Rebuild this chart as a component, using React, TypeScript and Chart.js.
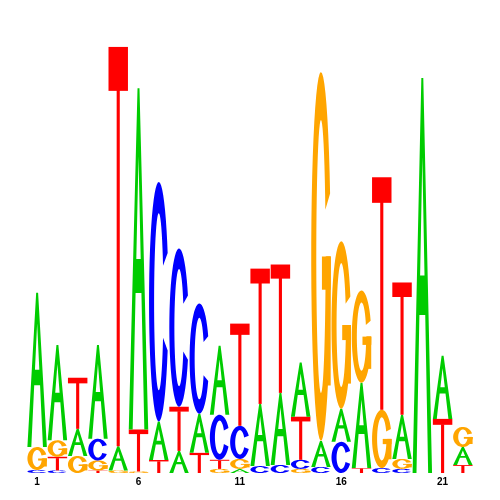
import React, { useEffect, useRef } from "react";
import { Chart, registerables } from "chart.js";

Chart.register(...registerables);

// Sequence positions
const positions = [
  "1", "2", "3", "4", "5", "6", "7", "8", "9", "10", "11",
  "12", "13", "14", "15", "16", "17", "18", "19", "20", "21", "22",
];

// Information (bits) carried by each base at each position
const bitsA = [0.713, 0.44, 0.125, 0.433, 0.111, 1.576, 0.178, 0.102, 0.181, 0.319, 0.019, 0.287, 0.333, 0.25, 0.12, 0.153, 0.394, 0.0, 0.204, 1.824, 0.292, 0.083];
const bitsC = [0.014, 0.012, 0.0, 0.1, 0.0, 0.0, 1.106, 0.731, 0.509, 0.208, 0.153, 0.032, 0.037, 0.042, 0.028, 0.144, 0.0, 0.023, 0.019, 0.0, 0.0, 0.0];
const bitsG = [0.106, 0.076, 0.079, 0.046, 0.012, 0.007, 0.0, 0.0, 0.0, 0.019, 0.046, 0.0, 0.0, 0.019, 1.704, 0.773, 0.426, 0.269, 0.046, 0.0, 0.0, 0.093];
const bitsT = [0.0, 0.063, 0.236, 0.012, 1.845, 0.194, 0.06, 0.204, 0.093, 0.042, 0.472, 0.625, 0.593, 0.199, 0.0, 0.0, 0.023, 1.074, 0.611, 0.0, 0.25, 0.037];

// Which tick labels are shown (every 5th position, starting at 1)
const tickStep = 5;
const maxBits = 2;

const bases = ["A", "C", "G", "T"];
const baseColors: Record<string, string> = {
  A: "#00CC00",
  C: "#0000FF",
  G: "#FFA500",
  T: "#FF0000",
};

type Pt = [number, number];

function drawLetter(
  ctx: CanvasRenderingContext2D,
  letter: string,
  x0: number,
  yb: number,
  w: number,
  h: number,
  color: string
) {
  const P = (u: number, v: number): Pt => [x0 + u * w, yb - v * h];
  const poly = (pts: Pt[]) => {
    pts.forEach((p, i) => {
      const q = P(p[0], p[1]);
      if (i === 0) ctx.moveTo(q[0], q[1]);
      else ctx.lineTo(q[0], q[1]);
    });
    ctx.closePath();
  };
  const ringPts = (a0: number, a1: number, rx: number, ry: number, n = 48): Pt[] => {
    const out: Pt[] = [];
    for (let k = 0; k <= n; k++) {
      const a = ((a0 + ((a1 - a0) * k) / n) * Math.PI) / 180;
      out.push([0.5 + rx * Math.cos(a), 0.5 + ry * Math.sin(a)]);
    }
    return out;
  };
  ctx.save();
  ctx.fillStyle = color;
  ctx.beginPath();
  if (letter === "A") {
    poly([
      [0, 0], [0.45, 1], [0.55, 1], [1, 0], [0.8, 0],
      [0.65, 0.4], [0.35, 0.4], [0.2, 0],
    ]);
    poly([[0.3875, 0.5], [0.5, 0.8], [0.6125, 0.5]]);
    ctx.fill("evenodd");
  } else if (letter === "T") {
    poly([[0, 0.89], [1, 0.89], [1, 1], [0, 1]]);
    ctx.fill();
    ctx.beginPath();
    poly([[0.42, 0], [0.58, 0], [0.58, 0.9], [0.42, 0.9]]);
    ctx.fill();
  } else if (letter === "C") {
    const outer = ringPts(24, 336, 0.5, 0.5);
    const inner = ringPts(336, 24, 0.24, 0.37);
    poly([...outer, ...inner]);
    ctx.fill();
  } else if (letter === "G") {
    const outer = ringPts(20, 360, 0.5, 0.5);
    const inner = ringPts(360, 20, 0.24, 0.37);
    poly([...outer, ...inner]);
    ctx.fill();
    ctx.beginPath();
    poly([[0.55, 0.41], [1, 0.41], [1, 0.5], [0.55, 0.5]]);
    ctx.fill();
    ctx.beginPath();
    poly([[0.78, 0.15], [1, 0.15], [1, 0.5], [0.78, 0.5]]);
    ctx.fill();
  }
  ctx.restore();
}

const logoPlugin = {
  id: "logoLetters",
  afterDatasetsDraw(chart: any) {
    const ctx: CanvasRenderingContext2D = chart.ctx;
    chart.data.datasets.forEach((ds: any, d: number) => {
      const meta = chart.getDatasetMeta(d);
      meta.data.forEach((bar: any, i: number) => {
        const v = ds.data[i];
        if (!v || v <= 0) return;
        const p = bar.getProps(["x", "y", "base", "width"], true);
        const top = Math.min(p.y, p.base);
        const bottom = Math.max(p.y, p.base);
        const h = bottom - top;
        if (h < 0.3) return;
        const L = ds.letters[i];
        drawLetter(ctx, L, p.x - p.width / 2, bottom, p.width, h, baseColors[L]);
      });
    });
  },
};

export default function App() {
  const canvasRef = useRef<HTMLCanvasElement | null>(null);

  useEffect(() => {
    if (!canvasRef.current) return;
    const series: Record<string, number[]> = { A: bitsA, C: bitsC, G: bitsG, T: bitsT };
    const ranked = [0, 1, 2, 3].map(() => ({ values: [] as number[], letters: [] as string[] }));
    positions.forEach((_, i) => {
      const col = bases
        .map((L) => ({ L, v: series[L][i] }))
        .sort((a, b) => a.v - b.v);
      col.forEach((c, r) => {
        ranked[r].values.push(c.v);
        ranked[r].letters.push(c.L);
      });
    });

    const chart = new Chart(canvasRef.current, {
      type: "bar",
      data: {
        labels: positions,
        datasets: ranked.map((r, k) => ({
          label: "rank" + k,
          data: r.values,
          letters: r.letters,
          backgroundColor: "rgba(0,0,0,0)",
          borderWidth: 0,
          categoryPercentage: 1,
          barPercentage: 0.96,
        })) as any,
      },
      options: {
        responsive: false,
        animation: false,
        layout: { padding: { left: 27, right: 27, top: 40, bottom: 9 } },
        plugins: {
          legend: { display: false },
          tooltip: { enabled: false },
        },
        scales: {
          x: {
            stacked: true,
            grid: { display: false, drawTicks: false },
            border: { display: false },
            ticks: {
              autoSkip: false,
              maxRotation: 0,
              padding: 3,
              color: "#000",
              font: { family: "'Liberation Sans', Arial, sans-serif", size: 10, weight: "bold" },
              callback: (_v: any, idx: number) => (idx % tickStep === 0 ? positions[idx] : ""),
            },
          },
          y: {
            stacked: true,
            display: false,
            min: 0,
            max: maxBits,
          },
        },
      },
      plugins: [logoPlugin],
    });
    return () => chart.destroy();
  }, []);

  return (
    <div style={{ position: "absolute", left: 0, top: 0, width: 500, height: 500, background: "#fff" }}>
      <canvas ref={canvasRef} width={500} height={500} style={{ display: "block" }} />
    </div>
  );
}
